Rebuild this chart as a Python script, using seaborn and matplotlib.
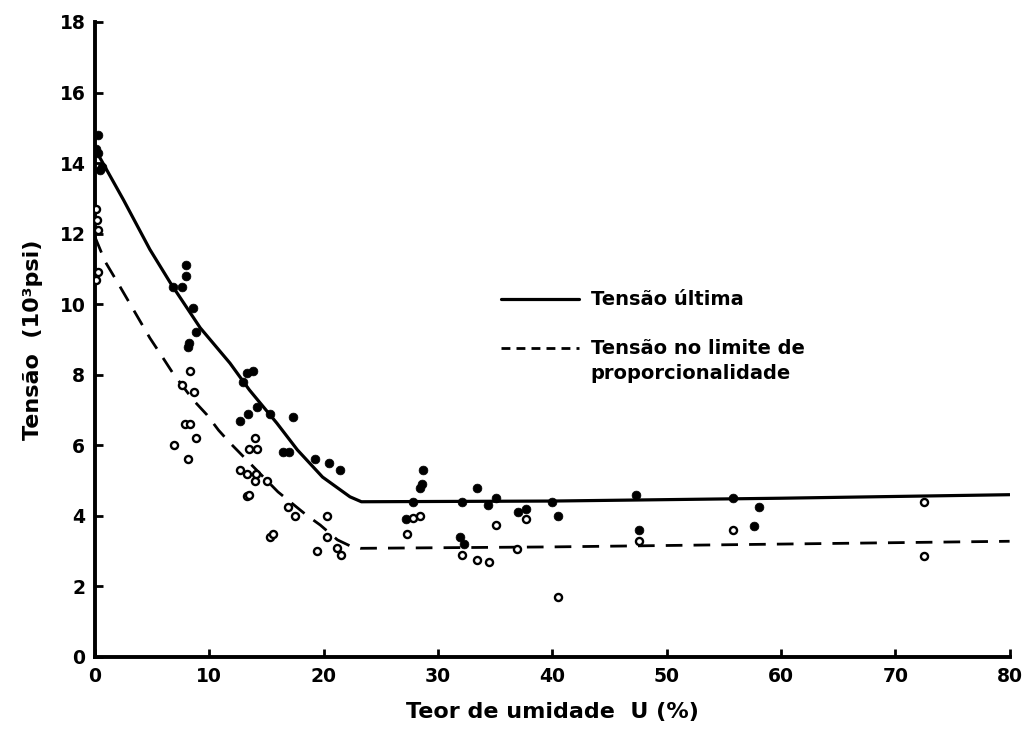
import numpy as np
import pandas as pd
import seaborn as sns
import matplotlib
matplotlib.use("Agg")
import matplotlib.pyplot as plt

# ---- data ----
ult_x = [0.3, 0.1, 0.3, 0.6, 0.4, 6.8, 7.6, 8.0, 8.0, 8.6, 8.8, 8.2, 8.1,
         12.7, 12.9, 13.3, 13.8, 13.4, 14.2, 15.3, 16.4, 17.0, 17.3, 19.2, 20.5, 21.4,
         27.2, 27.8, 28.4, 28.6, 28.7, 32.1, 31.9, 32.3, 33.4, 34.4, 35.1, 37.0, 37.7,
         40.0, 40.5, 47.3, 47.6, 55.8, 57.6, 58.1]
ult_y = [14.8, 14.4, 14.3, 13.9, 13.8, 10.5, 10.5, 11.1, 10.8, 9.9, 9.2, 8.9, 8.8,
         6.7, 7.8, 8.05, 8.1, 6.9, 7.1, 6.9, 5.8, 5.8, 6.8, 5.6, 5.5, 5.3,
         3.9, 4.4, 4.8, 4.9, 5.3, 4.4, 3.4, 3.2, 4.8, 4.3, 4.5, 4.1, 4.2,
         4.4, 4.0, 4.6, 3.6, 4.5, 3.7, 4.25]

prop_x = [0.1, 0.2, 0.3, 0.3, 0.1, 6.9, 7.6, 7.9, 8.3, 8.3, 8.65, 8.8, 8.1,
          12.7, 13.3, 13.3, 13.5, 13.5, 14.0, 14.0, 14.1, 14.2, 15.0, 15.3, 15.6,
          16.9, 17.5, 19.4, 20.3, 20.3, 21.2, 21.5,
          27.3, 27.8, 28.4, 32.1, 33.4, 34.5, 35.1, 36.9, 37.7, 40.5, 47.6, 55.8, 72.5, 72.5]
prop_y = [12.7, 12.4, 12.1, 10.9, 10.7, 6.0, 7.7, 6.6, 6.6, 8.1, 7.5, 6.2, 5.6,
          5.3, 5.2, 4.55, 4.6, 5.9, 6.2, 5.0, 5.2, 5.9, 5.0, 3.4, 3.5,
          4.25, 4.0, 3.0, 4.0, 3.4, 3.1, 2.9,
          3.5, 3.95, 4.0, 2.9, 2.75, 2.7, 3.75, 3.05, 3.9, 1.7, 3.3, 3.6, 4.4, 2.85]

curve_ult_x = [0, 2.5, 4.8, 6.6, 9.2, 11.8, 13.5, 15.9, 17.7, 19.9, 22.3, 23.3, 40, 60, 80]
curve_ult_y = [14.4, 12.95, 11.55, 10.6, 9.33, 8.33, 7.57, 6.63, 5.87, 5.1, 4.54, 4.4, 4.42, 4.5, 4.6]

curve_prop_x = [0, 0.9, 2.0, 2.9, 4.8, 5.9, 6.8, 8.6, 9.8, 10.8, 11.8, 13.1, 16.0,
                18.5, 19.7, 21.2, 22.3, 23.2, 40, 80]
curve_prop_y = [11.9, 11.2, 10.6, 10.1, 9.04, 8.5, 8.05, 7.28, 6.86, 6.43, 6.07, 5.64, 4.68,
                4.02, 3.74, 3.32, 3.15, 3.08, 3.12, 3.28]

x_ticks = [0, 10, 20, 30, 40, 50, 60, 70, 80]
y_ticks = [0, 2, 4, 6, 8, 10, 12, 14, 16, 18]

label_ult = "Tensão última"
label_prop_1 = "Tensão no limite de"
label_prop_2 = "proporcionalidade"

sns.set_style("ticks")
plt.rcParams['font.family'] = ['DejaVu Sans']
plt.rcParams['font.weight'] = 'bold'
for key in ['text.color', 'axes.labelcolor', 'xtick.color', 'ytick.color',
            'axes.edgecolor', 'xtick.labelcolor', 'ytick.labelcolor']:
    plt.rcParams[key] = 'black'

fig = plt.figure(figsize=(10.23, 7.38), dpi=100)
ax = fig.add_axes([0.0929, 0.1098, 0.894, 0.8604])

df_ult = pd.DataFrame({"x": ult_x, "y": ult_y})
df_prop = pd.DataFrame({"x": prop_x, "y": prop_y})
df_cu = pd.DataFrame({"x": curve_ult_x, "y": curve_ult_y})
df_cp = pd.DataFrame({"x": curve_prop_x, "y": curve_prop_y})

sns.lineplot(data=df_cu, x="x", y="y", ax=ax, sort=False, estimator=None,
             color="black", linewidth=2.3, label=label_ult)
sns.lineplot(data=df_cp, x="x", y="y", ax=ax, sort=False, estimator=None,
             color="black", linewidth=2.0, label=label_prop_1)
ax.lines[1].set_dashes([6, 4])

sns.scatterplot(data=df_ult, x="x", y="y", ax=ax, color="black", s=40,
                edgecolor="black", linewidth=0.5, zorder=3, legend=False)
sns.scatterplot(data=df_prop, x="x", y="y", ax=ax, color="white", s=26,
                edgecolor="black", linewidth=1.7, zorder=3, legend=False)

ax.set_xlim(0, 80)
ax.set_ylim(0, 18)
ax.set_xticks(x_ticks)
ax.set_yticks(y_ticks)
ax.tick_params(axis='both', labelsize=13.5, width=2, length=6, direction='in', pad=7,
               colors='black')
for lab in ax.get_xticklabels() + ax.get_yticklabels():
    lab.set_fontweight('bold')
ax.set_xlabel("Teor de umidade  U (%)", fontsize=16, fontweight='bold', labelpad=12,
              color='black')
ax.set_ylabel("Tensão  (10³psi)", fontsize=16, fontweight='bold', labelpad=12,
              color='black')
ax.spines['right'].set_visible(False)
ax.spines['top'].set_visible(False)
ax.spines['left'].set_linewidth(2.8)
ax.spines['bottom'].set_linewidth(2.8)
ax.spines['left'].set_color('black')
ax.spines['bottom'].set_color('black')

leg = ax.legend(loc='upper left', bbox_to_anchor=(0.425, 0.605), frameon=False,
                handlelength=4.0, labelspacing=1.55, handletextpad=0.6,
                prop={'weight': 'bold', 'size': 14})
leg.get_lines()[1].set_dashes([3.2, 2.2])
for t in leg.get_texts():
    t.set_color('black')

# second line of the dashed-series label, aligned under the legend text
fig.canvas.draw()
bb = leg.get_texts()[1].get_window_extent()
fig.text(bb.x0, bb.y0 - 6, label_prop_2, transform=None, fontsize=14,
         fontweight='bold', ha='left', va='top', color='black')

fig.savefig("out.png", dpi=100)
